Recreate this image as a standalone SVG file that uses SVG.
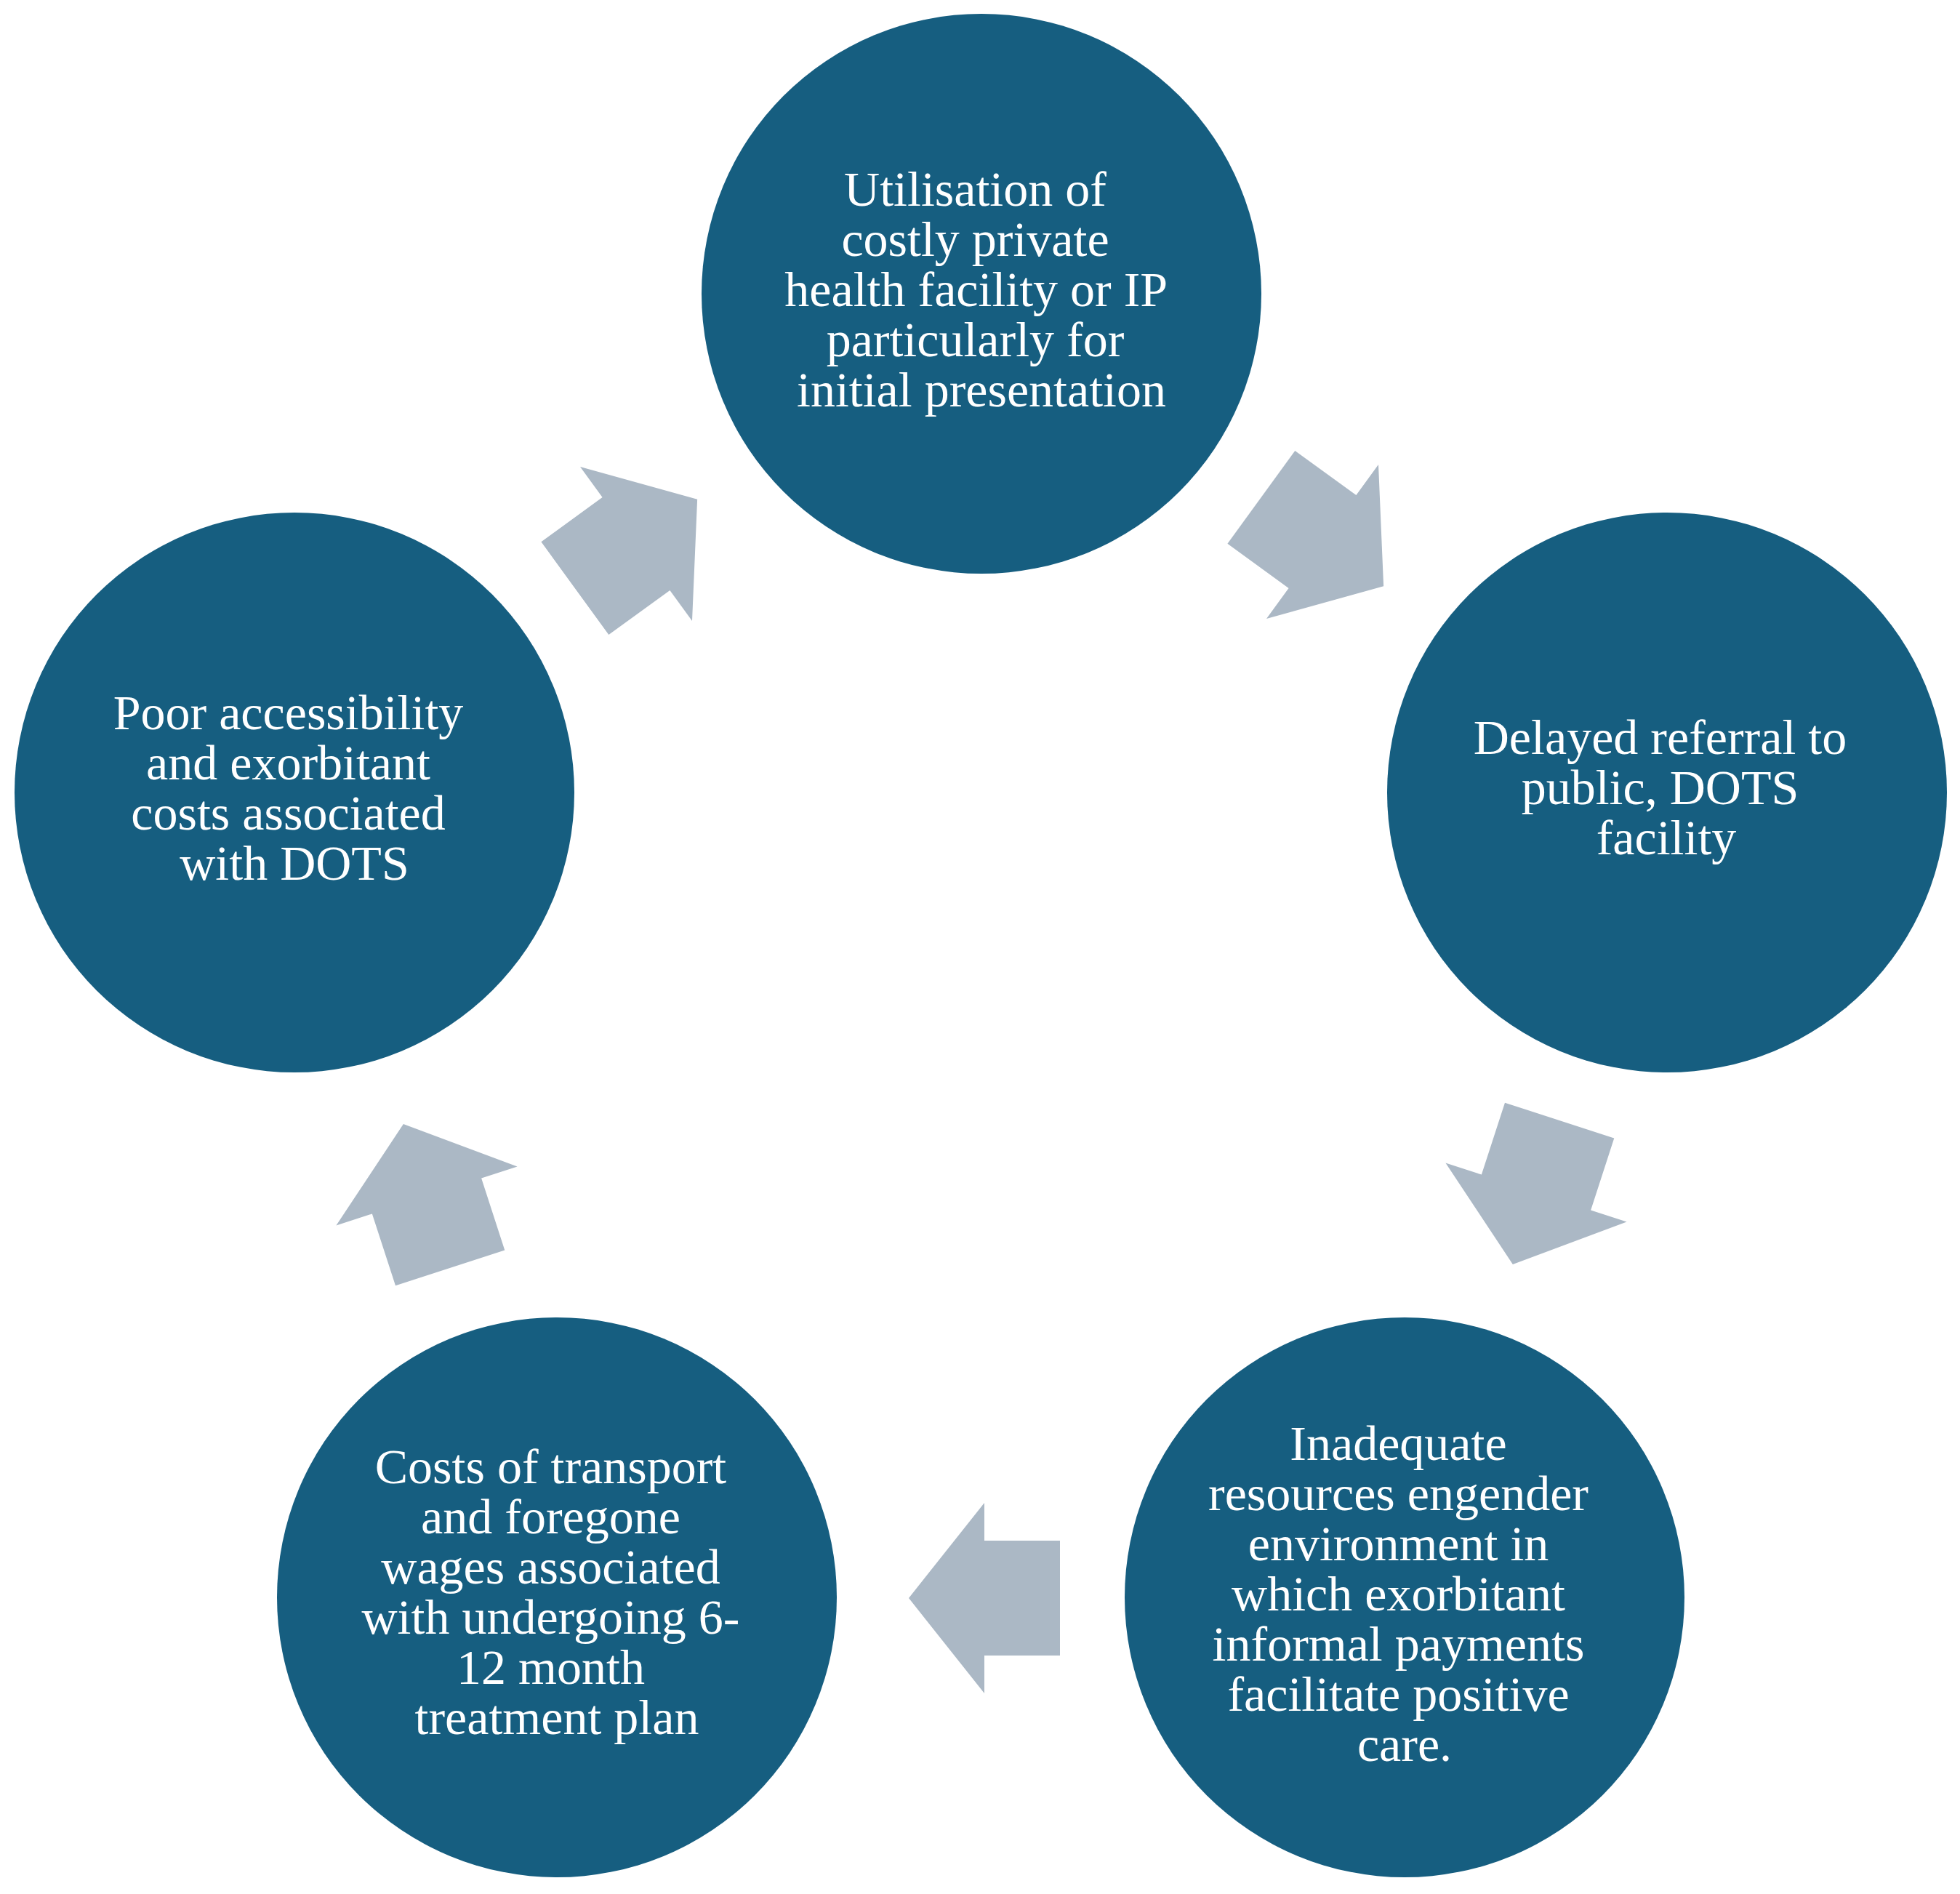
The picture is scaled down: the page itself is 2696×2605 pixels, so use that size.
<svg xmlns="http://www.w3.org/2000/svg" width="2696" height="2605" viewBox="0 0 2696 2605">
  <style>
    .node { fill: #165E80; }
    .arrow { fill: #ABB8C5; }
    .label { font-family: "Liberation Serif", "Times New Roman", serif; font-size: 68px; fill: #FFFFFF; text-anchor: middle; }
  </style>
  <defs>
    <path id="blockArrow" d="M-104,-79 L0,-79 L0,-131 L104,0 L0,131 L0,79 L-104,79 Z"/>
  </defs>
  <rect x="0" y="0" width="2696" height="2605" fill="#FFFFFF"/>

  <g id="connectors">
    <use href="#blockArrow" class="arrow" transform="translate(1819,745) rotate(36)"/>
    <use href="#blockArrow" class="arrow" transform="translate(2113,1640) rotate(108)"/>
    <use href="#blockArrow" class="arrow" transform="translate(1354,2198) rotate(180)"/>
    <use href="#blockArrow" class="arrow" transform="translate(587,1645) rotate(252)"/>
    <use href="#blockArrow" class="arrow" transform="translate(875,748) rotate(324)"/>
  </g>

  <g id="node-top">
    <circle class="node" cx="1350" cy="404" r="385"/>
    <text class="label">
      <tspan x="1350" y="283">Utilisation of</tspan>
      <tspan x="1350" y="352">costly private</tspan>
      <tspan x="1350" y="421">health facility or IP</tspan>
      <tspan x="1350" y="490">particularly for</tspan>
      <tspan x="1350" y="559">initial presentation</tspan>
    </text>
  </g>

  <g id="node-right">
    <circle class="node" cx="2293" cy="1090" r="385"/>
    <text class="label">
      <tspan x="2292" y="1037">Delayed referral to</tspan>
      <tspan x="2292" y="1106">public, DOTS</tspan>
      <tspan x="2292" y="1175">facility</tspan>
    </text>
  </g>

  <g id="node-bottom-right">
    <circle class="node" cx="1932" cy="2197" r="385"/>
    <text class="label">
      <tspan x="1932" y="2008">Inadequate</tspan>
      <tspan x="1932" y="2077">resources engender</tspan>
      <tspan x="1932" y="2146">environment in</tspan>
      <tspan x="1932" y="2215">which exorbitant</tspan>
      <tspan x="1932" y="2284">informal payments</tspan>
      <tspan x="1932" y="2353">facilitate positive</tspan>
      <tspan x="1932" y="2422">care.</tspan>
    </text>
  </g>

  <g id="node-bottom-left">
    <circle class="node" cx="766" cy="2197" r="385"/>
    <text class="label">
      <tspan x="766" y="2040">Costs of transport</tspan>
      <tspan x="766" y="2109">and foregone</tspan>
      <tspan x="766" y="2178">wages associated</tspan>
      <tspan x="766" y="2247">with undergoing 6-</tspan>
      <tspan x="766" y="2316">12 month</tspan>
      <tspan x="766" y="2385">treatment plan</tspan>
    </text>
  </g>

  <g id="node-left">
    <circle class="node" cx="405" cy="1090" r="385"/>
    <text class="label">
      <tspan x="405" y="1003">Poor accessibility</tspan>
      <tspan x="405" y="1072">and exorbitant</tspan>
      <tspan x="405" y="1141">costs associated</tspan>
      <tspan x="405" y="1210">with DOTS</tspan>
    </text>
  </g>
</svg>
